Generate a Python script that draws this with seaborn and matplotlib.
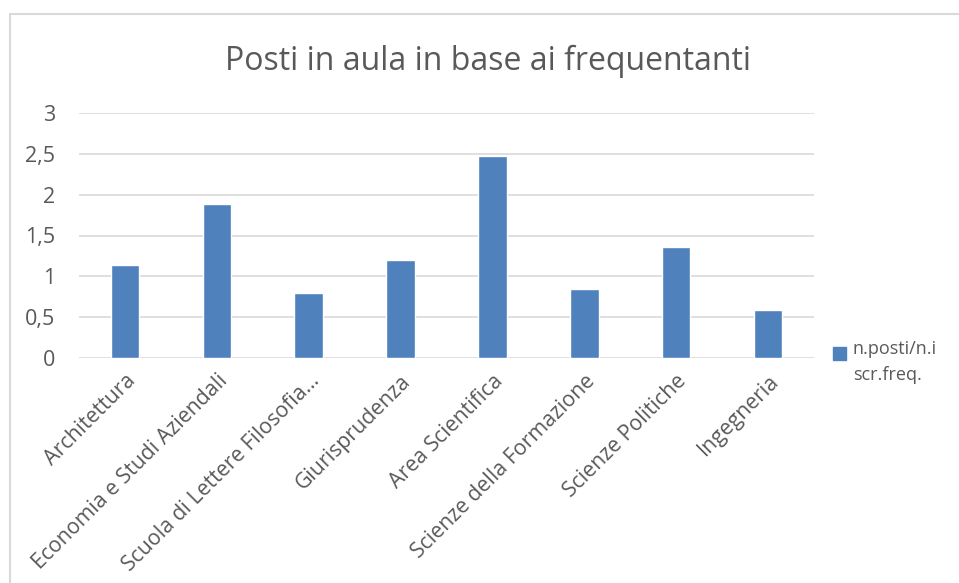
import numpy as np
import pandas as pd
import matplotlib
matplotlib.use("Agg")
import matplotlib.pyplot as plt
import seaborn as sns
from matplotlib.patches import Rectangle
from matplotlib.ticker import FuncFormatter

# ── Data ──────────────────────────────────────────────────────────────────────
facolta = [
    "Architettura",
    "Economia e Studi Aziendali",
    "Scuola di Lettere Filosofia...",
    "Giurisprudenza",
    "Area Scientifica",
    "Scienze della Formazione",
    "Scienze Politiche",
    "Ingegneria",
]
posti_per_freq = [1.14, 1.89, 0.80, 1.20, 2.47, 0.845, 1.36, 0.59]
y_ticks = [0, 0.5, 1, 1.5, 2, 2.5, 3]
serie = "n.posti/n.i\nscr.freq."

df = pd.DataFrame({"facolta": facolta, "valore": posti_per_freq})

BLUE = "#4f81bd"
TEXT = "#595959"
GRID = "#d9d9d9"

sns.set_theme(style="white")
plt.rcParams["font.family"] = ["Open Sans", "DejaVu Sans"]

fig = plt.figure(figsize=(9.59, 5.83), dpi=100)
ax = fig.add_axes([79 / 959, 1 - 358 / 583, (814 - 79) / 959, (358 - 113) / 583])

sns.barplot(data=df, x="facolta", y="valore", color=BLUE, width=0.31,
            saturation=1, ax=ax, zorder=3)

ax.set_ylim(0, 3)
ax.set_xlim(-0.5, len(facolta) - 0.5)
ax.set_yticks(y_ticks)
ax.yaxis.set_major_formatter(FuncFormatter(lambda v, p: f"{v:g}".replace(".", ",")))
ax.grid(axis="y", color=GRID, linewidth=1.2, zorder=0)
ax.tick_params(axis="y", length=0, pad=17, labelsize=15.5, labelcolor=TEXT)
ax.tick_params(axis="x", length=0, pad=9, labelsize=15.3, labelcolor=TEXT)
plt.setp(ax.get_xticklabels(), rotation=45, ha="right", rotation_mode="anchor")
ax.set_xlabel("")
ax.set_ylabel("")
for s in ax.spines.values():
    s.set_visible(False)

fig.text(488 / 959, 1 - 70 / 583, "Posti in aula in base ai frequentanti",
         ha="center", va="baseline", fontsize=23, color=TEXT)

# legend
fig.patches.append(Rectangle((833 / 959, 1 - 360 / 583), 13 / 959, 13 / 583,
                             transform=fig.transFigure, color=BLUE))
fig.text(853 / 959, 1 - 340 / 583, serie, ha="left", va="top",
         fontsize=13, color=TEXT, linespacing=1.55,
         transform=fig.transFigure)

# chart frame
fig.patches.append(Rectangle((9.5 / 959, -0.05), 1.1, 1 - 13.5 / 583 + 0.05,
                             transform=fig.transFigure, fill=False,
                             edgecolor=GRID, linewidth=1.5))

fig.savefig("out.png", dpi=100)
